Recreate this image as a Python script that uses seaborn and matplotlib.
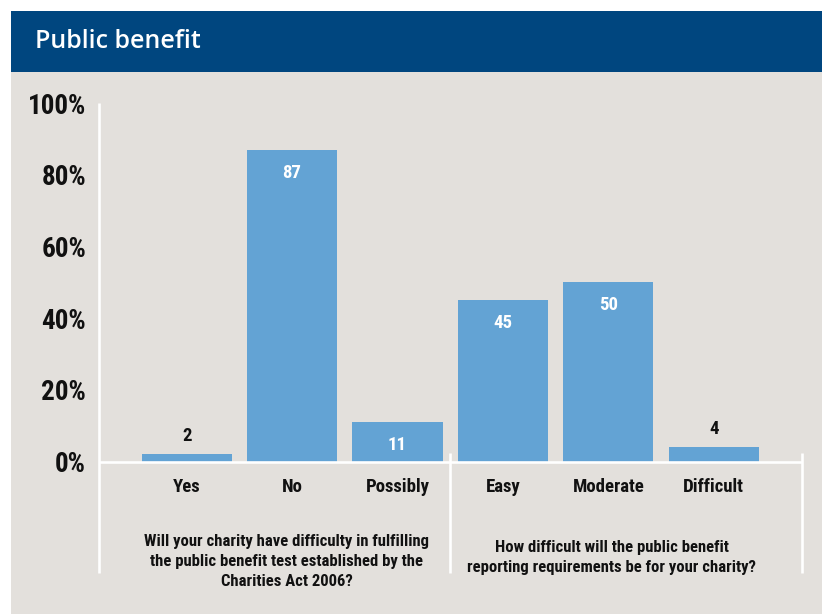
import matplotlib
matplotlib.use("Agg")
import matplotlib.pyplot as plt
from matplotlib.patches import Rectangle
import seaborn as sns
import pandas as pd

# Survey answers, percentage of respondents
categories = ["Yes", "No", "Possibly", "Easy", "Moderate", "Difficult"]
values = [2, 87, 11, 45, 50, 4]
y_ticks = [0, 20, 40, 60, 80, 100]
y_tick_labels = ["0%", "20%", "40%", "60%", "80%", "100%"]
title = "Public benefit"
question_1 = ("Will your charity have difficulty in fulfilling\n"
              "the public benefit test established by the\n"
              "Charities Act 2006?")
question_2 = ("How difficult will the public benefit\n"
              "reporting requirements be for your charity?")

BAR = "#63a3d4"
PANEL = "#e3e0dc"
HEADER = "#00467f"
INK = "#111111"

sns.set_style("white")
plt.rcParams["font.family"] = ["Roboto Condensed", "Barlow Condensed", "DejaVu Sans"]
plt.rcParams["font.weight"] = "bold"

W, H = 822, 614
fig = plt.figure(figsize=(W / 100, H / 100), dpi=100, facecolor="white")

def fx(px):
    return px / W

def fy(py):
    return 1 - py / H

# background panel and header band
fig.patches.append(Rectangle((fx(11), 0), 1 - fx(11), fy(11), transform=fig.transFigure,
                             facecolor=PANEL, edgecolor="none", zorder=-2))
fig.patches.append(Rectangle((fx(11), fy(72)), 1 - fx(11), fy(11) - fy(72),
                             transform=fig.transFigure, facecolor=HEADER,
                             edgecolor="none", zorder=-1))
fig.text(fx(35), fy(48), title, color="white", fontsize=18, fontweight="semibold",
         family=["Open Sans", "DejaVu Sans"], va="baseline", ha="left")

ax_left, ax_right, ax_top, ax_bot = 98.7, 801.7, 103.3, 461.5
ax = fig.add_axes([fx(ax_left), fy(ax_bot), fx(ax_right) - fx(ax_left), fy(ax_top) - fy(ax_bot)])
ax.set_zorder(5)
ax.set_facecolor("none")

df = pd.DataFrame({"answer": categories, "share": values})
sns.barplot(data=df, x="answer", y="share", color=BAR, saturation=1, width=0.854,
            linewidth=0, ax=ax, zorder=2)

x0, x1 = -0.834, 5.834
ax.set_xlim(x0, x1)
ax.set_ylim(0, 100)
for s in ax.spines.values():
    s.set_visible(False)

ax.set_yticks(y_ticks)
ax.set_yticklabels(y_tick_labels)
ax.tick_params(axis="y", direction="in", length=12, width=1.8, color="white",
               labelsize=19.5, labelcolor=INK, pad=9)
ax.tick_params(axis="x", length=0, labelsize=13.5, labelcolor=INK, pad=12)
ax.set_xlabel("")
ax.set_ylabel("")
for lab in ax.get_xticklabels() + ax.get_yticklabels():
    lab.set_fontweight("bold")

# white frame lines: axis, baseline and group separators
line_kw = dict(color="white", lw=1.9, clip_on=False, zorder=3, solid_capstyle="butt")
ax.plot([x0, x0], [100, -31], **line_kw)
ax.plot([x0, x1], [0, 0], **line_kw)
ax.plot([2.5, 2.5], [2.5, -31], **line_kw)
ax.plot([x1, x1], [2.5, -31], **line_kw)

# value labels
for i, v in enumerate(values):
    if v >= 10:
        ax.text(i, v - 6.4, str(v), ha="center", va="center", color="white",
                fontsize=13.5, fontweight="bold", zorder=4)
    else:
        ax.text(i, v + 5.0, str(v), ha="center", va="center", color=INK,
                fontsize=13.5, fontweight="bold", zorder=4)

ax.text(0.95, -28.0, question_1, ha="center", va="center", color=INK, fontsize=12,
        fontweight="bold", linespacing=1.42, clip_on=False)
ax.text(4.03, -26.7, question_2, ha="center", va="center", color=INK, fontsize=12,
        fontweight="bold", linespacing=1.42, clip_on=False)

fig.savefig("out.png", dpi=100, facecolor="white")
